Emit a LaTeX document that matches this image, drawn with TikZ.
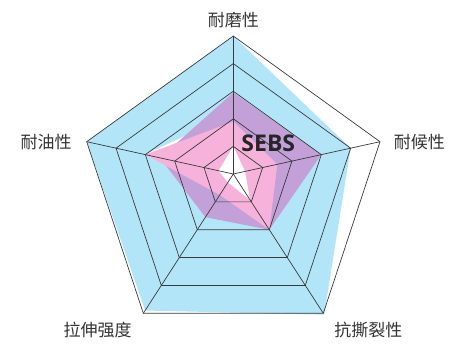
\documentclass[tikz,border=0pt]{standalone}
\usepackage{fontspec}
\setmainfont{Noto Sans CJK SC}
\newfontfamily\sebsfont{Open Sans}
\usetikzlibrary{calc}

\definecolor{skyfill}{RGB}{179,229,248}
\definecolor{violetfill}{RGB}{196,160,216}
\definecolor{pinkfill}{RGB}{246,178,218}
\definecolor{gridline}{RGB}{58,58,58}

\tikzset{
  radar/.style n args={5}{insert path={($(c)!#1/5!(v1)$) -- ($(c)!#2/5!(v2)$) -- ($(c)!#3/5!(v3)$) -- ($(c)!#4/5!(v4)$) -- ($(c)!#5/5!(v5)$) -- cycle}},
  axislabel/.style={font=\fontsize{17}{17}\selectfont, text=black!80, inner sep=0pt},
}

\begin{document}
\begin{tikzpicture}[x=1pt,y=-1pt]
\useasboundingbox (0,0) rectangle (452,345);
\coordinate (c) at (233.3,174);
\coordinate (v1) at (233.3,36);
\coordinate (v2) at (380,141.7);
\coordinate (v3) at (323.3,313.3);
\coordinate (v4) at (143.3,313.3);
\coordinate (v5) at (86.7,141.7);

% series
\fill[skyfill, radar={5}{4}{5.05}{4.9}{5}];
\fill[white, radar={2.2}{1}{1}{0.7}{3}];
\fill[violetfill, radar={2.95}{3}{2}{1.55}{2.5}];
\fill[pinkfill, radar={1.9}{1.5}{2}{0.75}{3}];
\fill[white, radar={1}{0.4}{0.93}{0.3}{0.5}];

% grid
\foreach \k in {1,...,5} {
  \draw[gridline, line width=0.7pt, line join=miter] ($(c)!\k/5!(v1)$) -- ($(c)!\k/5!(v2)$) -- ($(c)!\k/5!(v3)$) -- ($(c)!\k/5!(v4)$) -- ($(c)!\k/5!(v5)$) -- cycle;
}
\foreach \i in {1,...,5} {
  \draw[gridline, line width=0.7pt] (c) -- (v\i);
}

\node[axislabel] (wear) at (233.3,20) {耐磨性};
\node[axislabel] (weather) at (419.3,141.7) {耐候性};
\node[axislabel] (tear) at (368.3,330) {抗撕裂性};
\node[axislabel] (tensile) at (97.7,330) {拉伸强度};
\node[axislabel] (oil) at (46,141.7) {耐油性};
\node[font=\sebsfont\bfseries\fontsize{23}{23}\selectfont, text=black!85, inner sep=0pt] (sebs) at (268.3,143.3) {SEBS};
\end{tikzpicture}
\end{document}
